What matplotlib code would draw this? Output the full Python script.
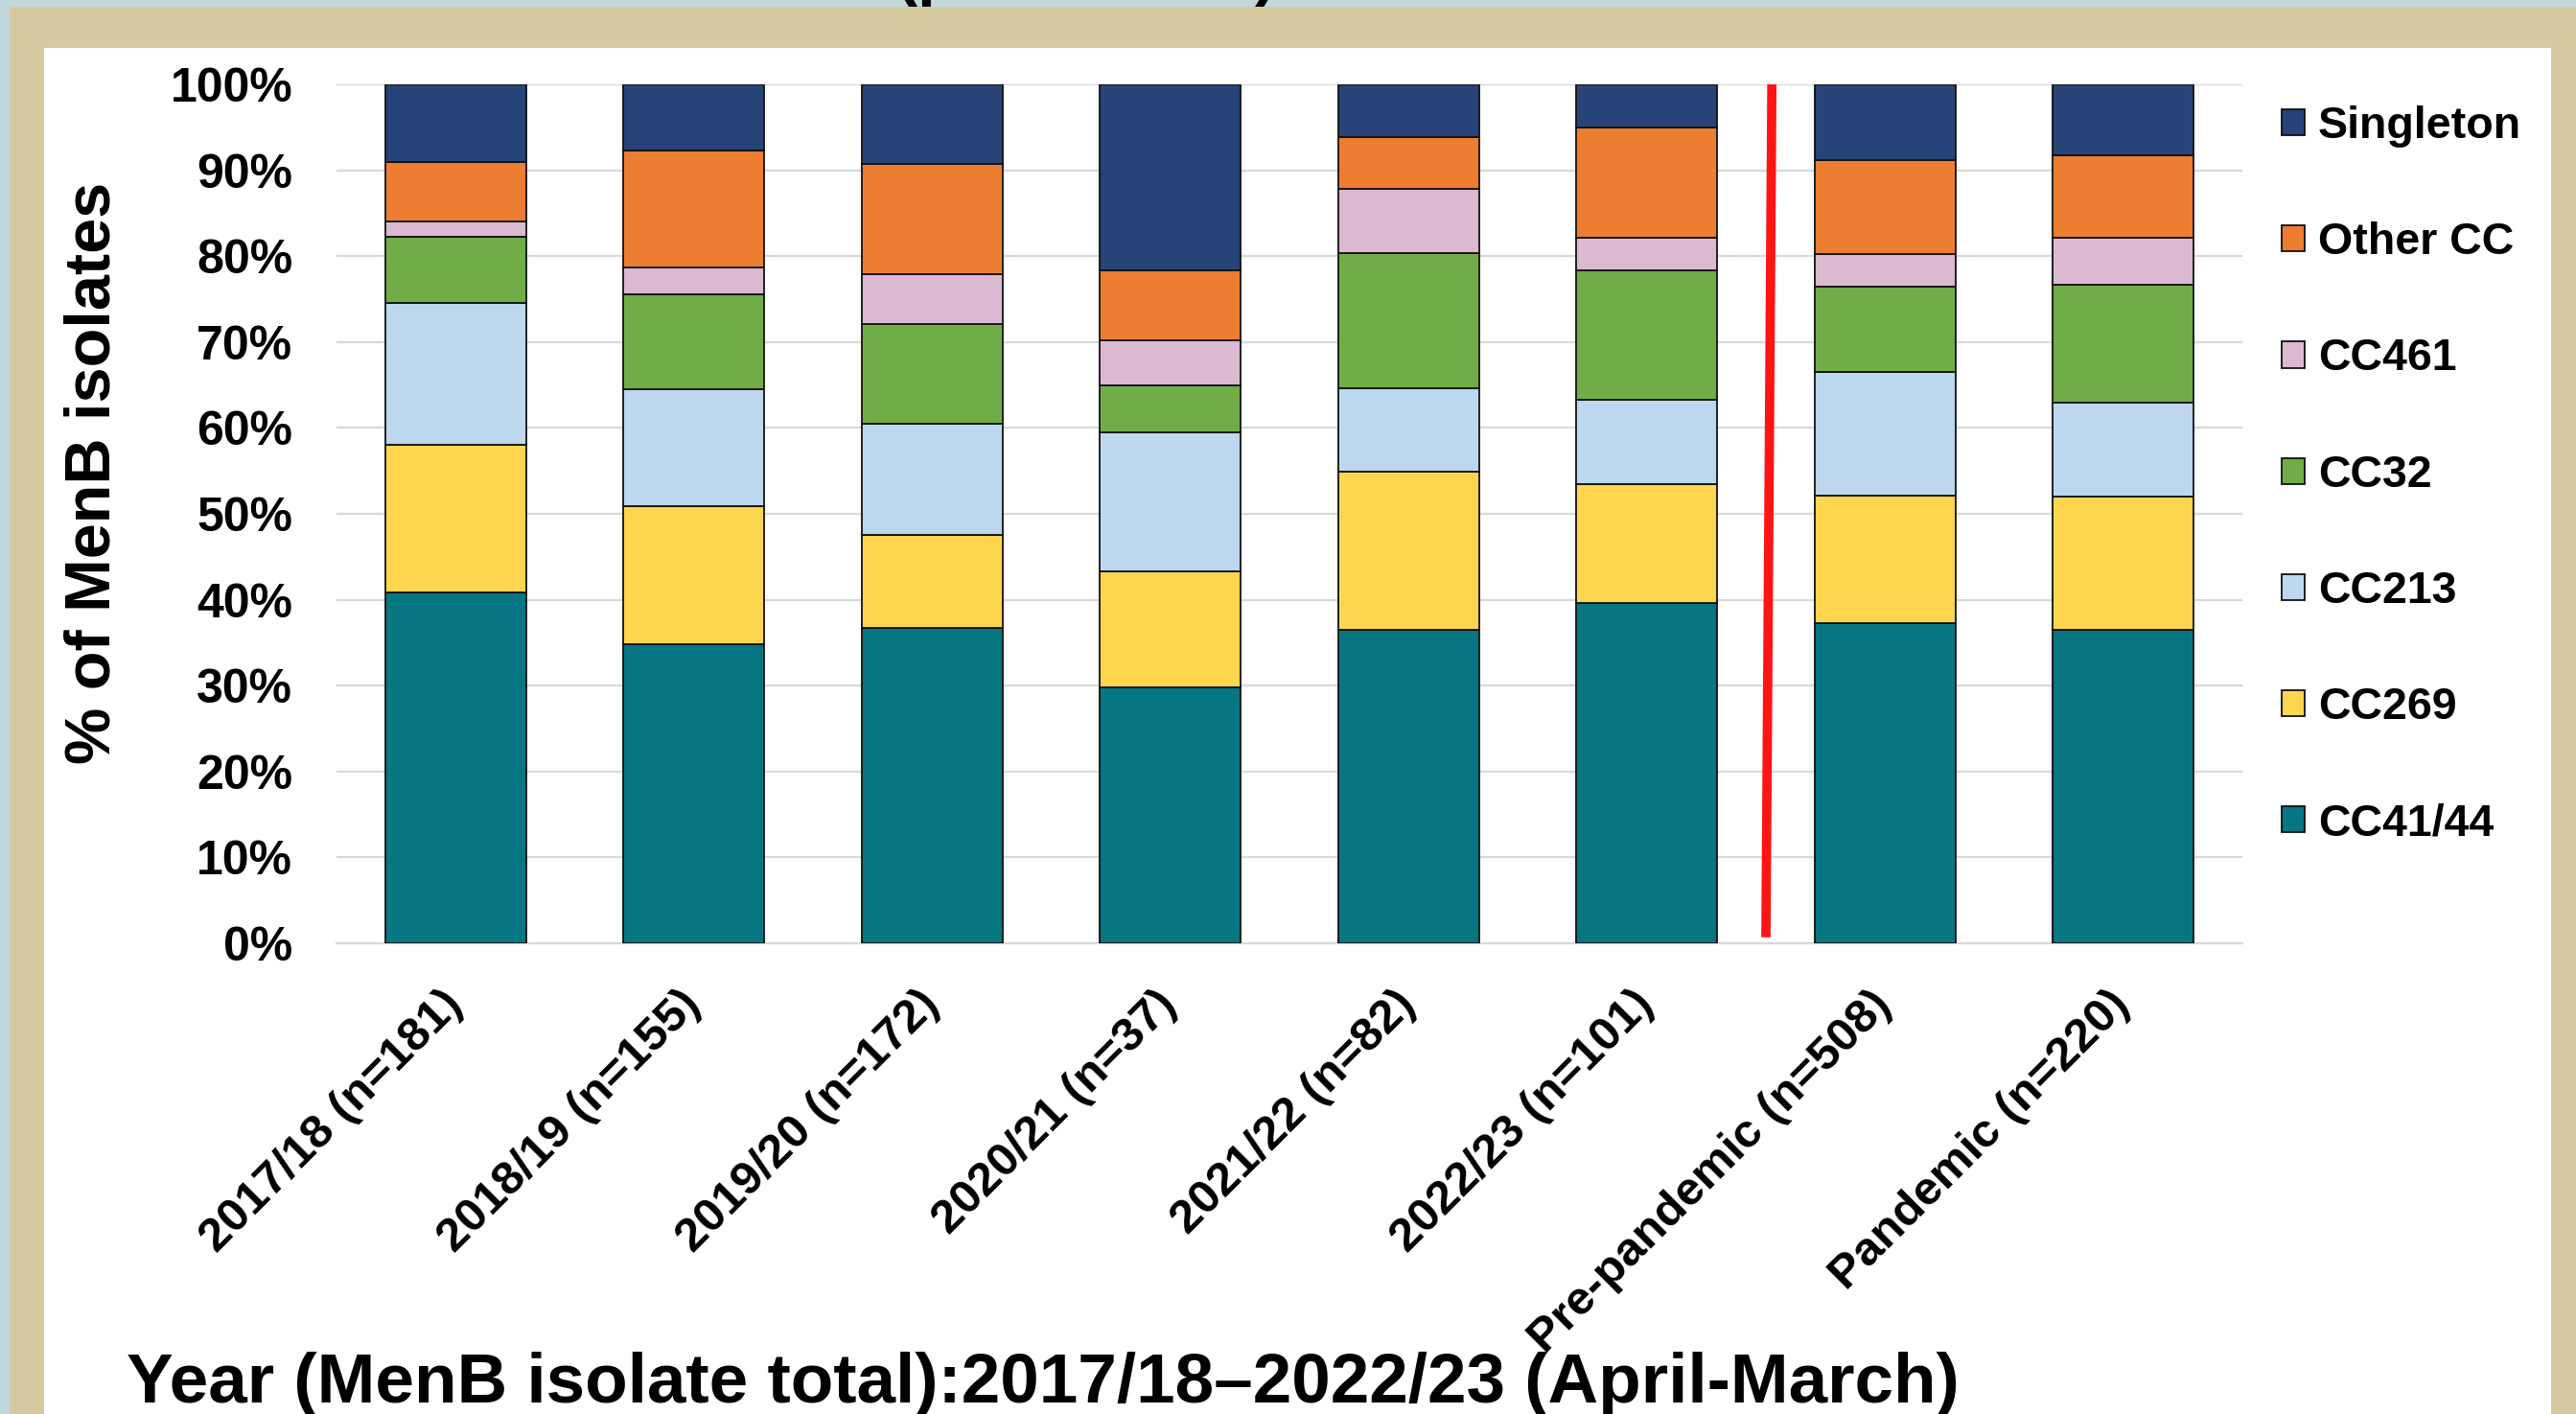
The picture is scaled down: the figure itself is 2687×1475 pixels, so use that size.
import numpy as np
import matplotlib
matplotlib.use('Agg')
import matplotlib.pyplot as plt
from matplotlib.patches import Rectangle

plt.rcParams['font.family'] = ['Liberation Sans', 'DejaVu Sans']
plt.rcParams['font.weight'] = 'bold'

# data (% of MenB isolates per period)
periods = ['2017/18 (n=181)', '2018/19 (n=155)', '2019/20 (n=172)', '2020/21 (n=37)',
           '2021/22 (n=82)', '2022/23 (n=101)', 'Pre-pandemic (n=508)', 'Pandemic (n=220)']
cc41_44 = [40.9, 34.8, 36.7, 29.8, 36.5, 39.6, 37.3, 36.5]
cc269 = [17.1, 16.1, 10.9, 13.5, 18.4, 13.9, 14.8, 15.5]
cc213 = [16.6, 13.6, 12.9, 16.2, 9.7, 9.8, 14.4, 11.0]
cc32 = [7.7, 11.1, 11.6, 5.5, 15.8, 15.0, 10.0, 13.7]
cc461 = [1.7, 3.1, 5.8, 5.2, 7.4, 3.8, 3.7, 5.4]
other_cc = [7.0, 13.6, 12.8, 8.2, 6.1, 12.9, 11.0, 9.6]
singleton = [9.0, 7.7, 9.3, 21.6, 6.1, 5.0, 8.8, 8.3]

series = [('CC41/44', cc41_44, '#077683'),
          ('CC269', cc269, '#FED54F'),
          ('CC213', cc213, '#BDD7EE'),
          ('CC32', cc32, '#70AD47'),
          ('CC461', cc461, '#DBB9D0'),
          ('Other CC', other_cc, '#ED7D31'),
          ('Singleton', singleton, '#264478')]

W, H = 2687, 1475
fig = plt.figure(figsize=(W / 100, H / 100), dpi=100, facecolor='#C0D8DC')

# slide frame
fig.patches.append(Rectangle((10 / W, 0), 1, 1 - 7 / H, transform=fig.transFigure,
                             facecolor='#D6CBA0', edgecolor='none', zorder=-3))
fig.patches.append(Rectangle((46 / W, 0), (2661 - 46) / W, 1 - 50 / H, transform=fig.transFigure,
                             facecolor='white', edgecolor='none', zorder=-2))
# title text that is cut off at the top of the slide
fig.text(935 / W, 1 + 7 / H, '(per season)', fontsize=48, ha='left', va='baseline')

ax = fig.add_axes([351 / W, 1 - 984 / H, (2339 - 351) / W, (984 - 88) / H])
ax.set_facecolor('none')

x = np.arange(len(periods))
bottom = np.zeros(len(periods))
handles = []
for name, vals, col in series:
    b = ax.bar(x, vals, 0.59, bottom=bottom, color=col, edgecolor='#111111',
               linewidth=1.3, label=name, zorder=3)
    handles.append(b)
    bottom += np.array(vals)

# pre-pandemic / pandemic divider
ax.plot([5.5, 5.525], [0.7, 100], color='#FF1414', lw=7, solid_capstyle='butt', zorder=4)

ax.set_xlim(-0.5, 7.5)
ax.set_ylim(0, 100)
ax.set_yticks(np.arange(0, 101, 10))
ax.set_yticklabels(['%d%%' % v for v in range(0, 101, 10)])
ax.yaxis.grid(True, color='#D9D9D9', lw=1.6, zorder=0)
ax.set_axisbelow(True)
for s in ['top', 'right', 'left']:
    ax.spines[s].set_visible(False)
ax.spines['bottom'].set_color('#D9D9D9')
ax.spines['bottom'].set_linewidth(1.6)
ax.tick_params(axis='y', length=0, pad=33, labelsize=36)
ax.tick_params(axis='x', length=0, pad=41, labelsize=35.5)
ax.set_xticks(x)
ax.set_xticklabels(periods, rotation=45, ha='right', va='center', rotation_mode='anchor')

fig.text(98 / W, 1 - 493 / H, '% of MenB isolates', rotation=90, fontsize=48,
         ha='center', va='center')
fig.text(132 / W, 1 - 1444 / H, 'Year (MenB isolate total):2017/18\u20132022/23 (April-March)',
         fontsize=52.5, ha='left', va='center')

leg = fig.legend(handles[::-1], [s[0] for s in series][::-1], loc='upper left',
                 bbox_to_anchor=(2380 / W, 1 - 110 / H), frameon=False, fontsize=33.5,
                 handlelength=0.52, handleheight=0.52, handletextpad=0.29,
                 labelspacing=1.66, borderpad=0, borderaxespad=0)

fig.savefig('out.png', dpi=100)
